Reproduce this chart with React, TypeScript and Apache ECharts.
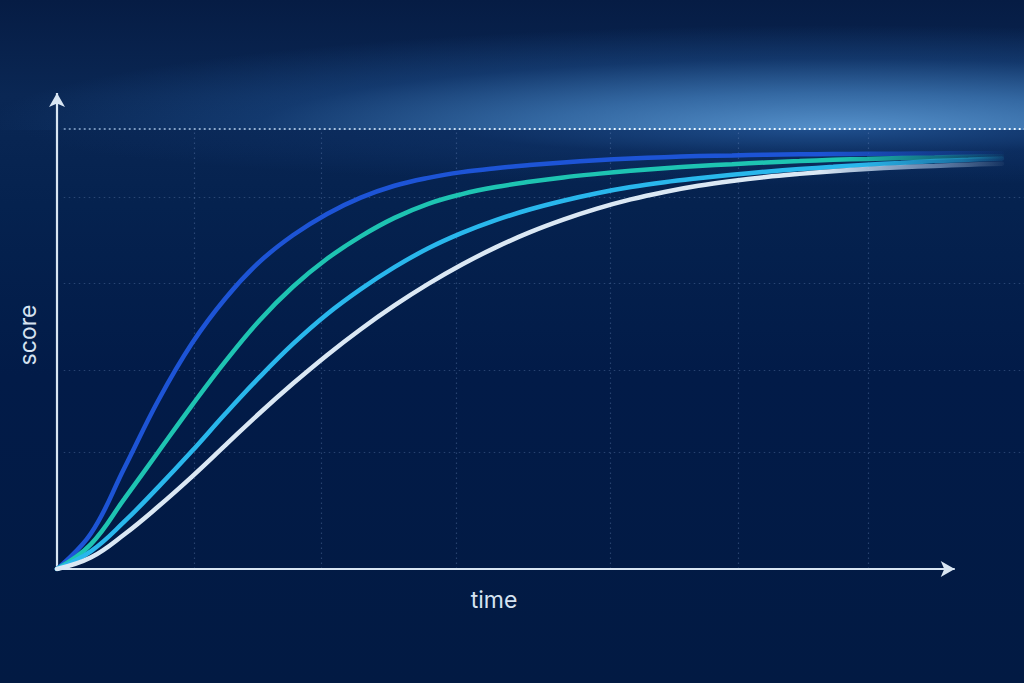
import React, { useEffect, useRef } from "react";
import * as echarts from "echarts";

// ---- data ----
const timePoints = [
  0, 0.25, 0.5, 0.75, 1, 1.25, 1.5, 1.75, 2, 2.25, 2.5, 2.75, 3, 3.25, 3.5, 3.75, 4,
  4.25, 4.5, 4.75, 5, 5.25, 5.5, 5.75, 6, 6.25, 6.5, 6.75, 7,
];
const fastScores = [
  0, 8.0, 23.0, 38.3, 51.3, 61.6, 69.8, 75.9, 80.7, 84.4, 87.1, 88.9, 90.2, 91.1, 91.8, 92.4, 92.9,
  93.3, 93.6, 93.85, 94.0, 94.15, 94.25, 94.3, 94.35, 94.4, 94.45, 94.5, 94.5,
];
const mediumScores = [
  0, 5.6, 16.0, 26.6, 37.2, 47.3, 56.5, 64.2, 70.5, 75.6, 79.8, 83.0, 85.2, 86.8, 88.0, 89.0, 89.8,
  90.5, 91.1, 91.6, 92.0, 92.4, 92.7, 93.0, 93.2, 93.4, 93.55, 93.7, 93.8,
];
const slowScores = [
  0, 4.0, 10.8, 18.6, 26.8, 35.4, 43.6, 51.2, 57.9, 63.6, 68.6, 72.9, 76.4, 79.3, 81.7, 83.7, 85.4,
  86.8, 87.9, 88.8, 89.6, 90.3, 90.9, 91.4, 91.9, 92.3, 92.7, 93.0, 93.3,
];
const slowestScores = [
  0, 2.6, 7.9, 14.2, 21.0, 28.2, 35.4, 42.2, 48.6, 54.5, 59.9, 64.8, 69.2, 73.1, 76.5, 79.4, 81.9,
  84.0, 85.7, 87.1, 88.2, 89.1, 89.8, 90.4, 90.9, 91.3, 91.6, 91.9, 92.1,
];

const hGridValues = [26.6, 45.2, 65.0, 84.5];
const ceilingValue = 100;
const vGridValues = [1.02, 1.96, 2.96, 4.1, 5.05, 6.01];

const X_MAX = 7.163;
const Y_MAX = 125;
const X_AXIS_END = 6.65;
const Y_AXIS_END = 108.2;

const xLabel = "time";
const yLabel = "score";

function fade(color: string, transparent: string, holdUntil: number, mid?: [number, string]) {
  const stops: any[] = [
    { offset: 0, color },
    { offset: holdUntil, color },
  ];
  if (mid) stops.push({ offset: mid[0], color: mid[1] });
  stops.push({ offset: 1, color: transparent });
  return new echarts.graphic.LinearGradient(57, 0, 1010, 0, stops, true);
}

export default function App() {
  const ref = useRef<HTMLDivElement>(null);

  useEffect(() => {
    if (!ref.current) return;
    const chart = echarts.init(ref.current, undefined, { renderer: "svg" });

    const pairs = (ys: number[]) => timePoints.map((t, i) => [t, ys[i]]);

    const curve = (name: string, ys: number[], color: any) => ({
      name,
      type: "line",
      data: pairs(ys),
      smooth: 0.4,
      symbol: "none",
      silent: true,
      lineStyle: { width: 4.5, color, cap: "round" },
      z: 5,
    });

    const gridLines = [
      ...vGridValues.map((x) => [{ coord: [x, 0] }, { coord: [x, ceilingValue] }]),
      ...hGridValues.map((y) => [{ coord: [0.05, y] }, { coord: [X_MAX, y] }]),
    ];

    chart.setOption({
      animation: false,
      backgroundColor: "transparent",
      grid: { left: 57, right: 0, top: 19, bottom: 114, containLabel: false },
      xAxis: {
        type: "value",
        min: 0,
        max: X_MAX,
        axisLine: { show: false },
        axisTick: { show: false },
        axisLabel: { show: false },
        splitLine: { show: false },
      },
      yAxis: {
        type: "value",
        min: 0,
        max: Y_MAX,
        axisLine: { show: false },
        axisTick: { show: false },
        axisLabel: { show: false },
        splitLine: { show: false },
      },
      series: [
        {
          type: "line",
          data: [[0, 0]],
          symbol: "none",
          silent: true,
          lineStyle: { width: 0, opacity: 0 },
          z: 1,
          markLine: {
            silent: true,
            symbol: ["none", "none"],
            label: { show: false },
            emphasis: { disabled: true },
            lineStyle: { color: "rgba(120,150,200,0.32)", width: 1.2, type: [1.5, 3.5] },
            data: gridLines,
          },
        },
        {
          type: "line",
          data: [[0, 0]],
          symbol: "none",
          silent: true,
          lineStyle: { width: 0, opacity: 0 },
          z: 2,
          markLine: {
            silent: true,
            symbol: ["none", "none"],
            label: { show: false },
            emphasis: { disabled: true },
            lineStyle: {
              color: new echarts.graphic.LinearGradient(
                57,
                0,
                600,
                0,
                [
                  { offset: 0, color: "rgba(170,200,235,0.6)" },
                  { offset: 1, color: "rgba(240,248,255,1)" },
                ],
                true
              ),
              width: 1.9,
              type: [1.9, 3.1],
            },
            data: [[{ coord: [0.05, ceilingValue] }, { coord: [X_MAX, ceilingValue] }]],
          },
        },
        curve("fast", fastScores, fade("#1d54d6", "rgba(29,84,214,0)", 0.8, [0.9, "rgba(29,84,214,0.5)"])),
        curve("medium", mediumScores, fade("#1ec4b2", "rgba(30,196,178,0)", 0.82, [0.93, "rgba(30,196,178,0.4)"])),
        curve("slow", slowScores, fade("#29b7ec", "rgba(41,183,236,0.05)", 0.84, [0.95, "rgba(41,183,236,0.5)"])),
        curve("slowest", slowestScores, fade("#dbe8f4", "rgba(219,232,244,0)", 0.8, [0.93, "rgba(170,200,235,0.5)"])),
        {
          type: "line",
          data: [[0, 0]],
          symbol: "none",
          silent: true,
          lineStyle: { width: 0, opacity: 0 },
          z: 8,
          markLine: {
            silent: true,
            label: { show: false },
            emphasis: { disabled: true },
            lineStyle: { color: "#d9e6f3", width: 2.2, type: "solid" },
            data: [
              [
                { coord: [0, 0], symbol: "none" },
                { coord: [X_AXIS_END, 0], symbol: "arrow", symbolSize: [12, 14] },
              ],
              [
                { coord: [0, 0], symbol: "none" },
                { coord: [0, Y_AXIS_END], symbol: "arrow", symbolSize: [12, 14] },
              ],
            ],
          },
        },
      ],
      graphic: [
        {
          type: "text",
          x: 28,
          y: 335,
          rotation: Math.PI / 2,
          silent: true,
          style: {
            text: yLabel,
            fill: "#d6e3f1",
            fontSize: 23,
            fontFamily: "Inter, 'Noto Sans', sans-serif",
            textAlign: "center",
            textVerticalAlign: "middle",
          },
        },
        {
          type: "text",
          x: 494,
          y: 600,
          silent: true,
          style: {
            text: xLabel,
            fill: "#d6e3f1",
            fontSize: 23,
            fontFamily: "Inter, 'Noto Sans', sans-serif",
            textAlign: "center",
            textVerticalAlign: "middle",
          },
        },
      ],
    });

    return () => chart.dispose();
  }, []);

  return (
    <div
      style={{
        position: "fixed",
        left: 0,
        top: 0,
        width: 1024,
        height: 683,
        overflow: "hidden",
        background:
          "linear-gradient(to bottom, #061c44 0%, #0a2754 14%, #05224f 30%, #021b48 55%, #021a43 100%)",
      }}
    >
      <div
        style={{
          position: "absolute",
          left: 0,
          top: 0,
          width: 1024,
          height: 130,
          background:
            "radial-gradient(ellipse 860px 105px at 840px 130px, rgba(100,165,225,0.85) 0%, rgba(75,140,205,0.65) 35%, rgba(40,98,168,0.32) 68%, rgba(15,50,105,0) 100%)",
        }}
      />
      <div
        style={{
          position: "absolute",
          left: 0,
          top: 130,
          width: 1024,
          height: 80,
          background:
            "radial-gradient(ellipse 800px 55px at 820px 0px, rgba(45,105,178,0.6) 0%, rgba(22,65,128,0.3) 45%, rgba(10,40,95,0) 100%)",
        }}
      />
      <div ref={ref} style={{ position: "absolute", left: 0, top: 0, width: 1024, height: 683 }} />
    </div>
  );
}
